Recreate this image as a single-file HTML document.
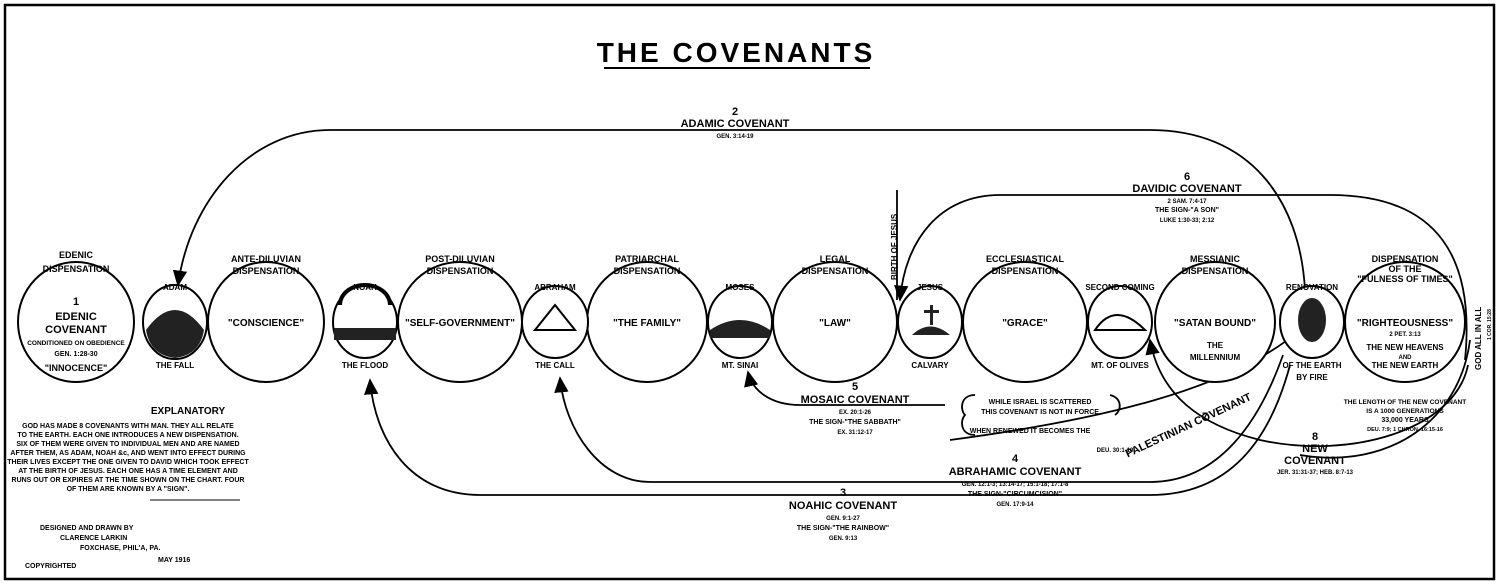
<!DOCTYPE html>
<html><head><meta charset="utf-8"><style>
html,body{margin:0;padding:0;background:#fff}
svg{display:block}
text{font-family:"Liberation Sans",sans-serif;font-weight:bold;fill:#000}
</style></head><body>
<svg width="1500" height="585" viewBox="0 0 1500 585" xmlns="http://www.w3.org/2000/svg">
<defs><marker id="a" markerWidth="10" markerHeight="10" refX="8" refY="5" orient="auto"><path d="M0,1 L9,5 L0,9 z" fill="#000"/></marker></defs>
<rect x="5" y="5" width="1489" height="574" fill="none" stroke="#000" stroke-width="2.5"/>
<text x="736" y="62" font-size="28" text-anchor="middle" letter-spacing="3">THE COVENANTS</text>
<line x1="604" y1="68" x2="870" y2="68" stroke="#000" stroke-width="2"/>

<g fill="none" stroke="#000" stroke-width="1.8">
<!-- Adamic -->
<path d="M1305,290 C1300,200 1250,130 1150,130 L330,130 C250,130 190,200 178,285" marker-end="url(#a)"/>
<!-- Davidic -->
<path d="M1465,360 C1475,260 1440,195 1330,195 L1000,195 C940,195 905,240 900,300" marker-end="url(#a)"/>
<line x1="897" y1="190" x2="897" y2="300"/>
<!-- Noahic -->
<path d="M1290,365 C1270,440 1230,495 1150,495 L480,495 C410,495 375,440 370,380" marker-end="url(#a)"/>
<!-- Abrahamic -->
<path d="M1283,355 C1260,420 1220,482 1150,482 L650,482 C600,482 565,430 560,378" marker-end="url(#a)"/>
<!-- Mosaic -->
<path d="M945,405 L800,405 C770,405 752,390 748,372" marker-end="url(#a)"/>
<!-- Palestinian -->
<path d="M950,440 C1100,420 1230,390 1300,330"/>
<!-- New -->
<path d="M1468,365 C1455,430 1350,460 1260,440 C1200,425 1160,395 1150,340" marker-end="url(#a)"/>
<path d="M1470,340 C1460,420 1390,470 1300,455"/>
<!-- bracket -->
<path d="M975,395 C960,395 960,410 965,415 C960,420 960,435 975,435"/>
<path d="M1110,395 C1122,398 1122,410 1115,415"/>
</g>

<g fill="#fff" stroke="#000" stroke-width="2">
<ellipse cx="76" cy="322" rx="58" ry="60"/>
<ellipse cx="266" cy="322" rx="58" ry="60"/>
<ellipse cx="460" cy="322" rx="62" ry="60"/>
<ellipse cx="647" cy="322" rx="60" ry="60"/>
<ellipse cx="835" cy="322" rx="62" ry="60"/>
<ellipse cx="1025" cy="322" rx="62" ry="60"/>
<ellipse cx="1215" cy="322" rx="60" ry="60"/>
<ellipse cx="1405" cy="322" rx="60" ry="60"/>
<ellipse cx="175" cy="322" rx="32" ry="37"/>
<ellipse cx="365" cy="322" rx="32" ry="36"/>
<ellipse cx="555" cy="322" rx="33" ry="36"/>
<ellipse cx="740" cy="322" rx="32" ry="36"/>
<ellipse cx="930" cy="322" rx="32" ry="36"/>
<ellipse cx="1120" cy="322" rx="32" ry="36"/>
<ellipse cx="1312" cy="322" rx="32" ry="36"/>
</g>
<!-- picture fills -->
<g fill="#222">
<path d="M146,330 Q175,290 204,330 Q200,355 175,358 Q150,355 146,330z"/>
<rect x="334" y="328" width="62" height="12"/>
<path d="M340,305 A25,20 0 0 1 390,305" fill="none" stroke="#000" stroke-width="4"/>
<path d="M535,330 L555,305 L575,330z" fill="none" stroke="#000" stroke-width="2"/>
<path d="M710,330 Q740,310 770,330 L770,338 L710,338z"/>
<rect x="930" y="305" width="3" height="20"/><rect x="924" y="310" width="15" height="3"/>
<path d="M912,335 Q930,318 950,335z"/>
<path d="M1095,330 Q1115,300 1145,330z" fill="none" stroke="#000" stroke-width="2"/>
<ellipse cx="1312" cy="320" rx="14" ry="22"/>
</g>

<g font-size="9" text-anchor="middle">
<text x="76" y="258">EDENIC</text><text x="76" y="272">DISPENSATION</text>
<text x="266" y="262">ANTE-DILUVIAN</text><text x="266" y="274">DISPENSATION</text>
<text x="460" y="262">POST-DILUVIAN</text><text x="460" y="274">DISPENSATION</text>
<text x="647" y="262">PATRIARCHAL</text><text x="647" y="274">DISPENSATION</text>
<text x="835" y="262">LEGAL</text><text x="835" y="274">DISPENSATION</text>
<text x="1025" y="262">ECCLESIASTICAL</text><text x="1025" y="274">DISPENSATION</text>
<text x="1215" y="262">MESSIANIC</text><text x="1215" y="274">DISPENSATION</text>
<text x="1405" y="262">DISPENSATION</text><text x="1405" y="272">OF THE</text><text x="1405" y="282">"FULNESS OF TIMES"</text>
<text x="175" y="290" font-size="8">ADAM</text><text x="175" y="368" font-size="8">THE FALL</text>
<text x="365" y="290" font-size="8">NOAH</text><text x="365" y="368" font-size="8">THE FLOOD</text>
<text x="555" y="290" font-size="8">ABRAHAM</text><text x="555" y="368" font-size="8">THE CALL</text>
<text x="740" y="290" font-size="8">MOSES</text><text x="740" y="368" font-size="8">MT. SINAI</text>
<text x="930" y="290" font-size="8">JESUS</text><text x="930" y="368" font-size="8">CALVARY</text>
<text x="1120" y="290" font-size="8">SECOND COMING</text><text x="1120" y="368" font-size="8">MT. OF OLIVES</text>
<text x="1312" y="290" font-size="8">RENOVATION</text><text x="1312" y="368" font-size="8">OF THE EARTH</text>
<text x="1312" y="380" font-size="8">BY FIRE</text>
</g>
<g text-anchor="middle">
<text x="76" y="305" font-size="11">1</text>
<text x="76" y="320" font-size="11">EDENIC</text>
<text x="76" y="333" font-size="11">COVENANT</text>
<text x="76" y="345" font-size="6.5">CONDITIONED ON OBEDIENCE</text>
<text x="76" y="356" font-size="7">GEN. 1:28-30</text>
<text x="76" y="371" font-size="9">"INNOCENCE"</text>
<text x="266" y="326" font-size="10">"CONSCIENCE"</text>
<text x="460" y="326" font-size="10">"SELF-GOVERNMENT"</text>
<text x="647" y="326" font-size="10">"THE FAMILY"</text>
<text x="835" y="326" font-size="10">"LAW"</text>
<text x="1025" y="326" font-size="10">"GRACE"</text>
<text x="1215" y="326" font-size="10">"SATAN BOUND"</text>
<text x="1215" y="348" font-size="8">THE</text>
<text x="1215" y="360" font-size="8">MILLENNIUM</text>
<text x="1405" y="326" font-size="10">"RIGHTEOUSNESS"</text>
<text x="1405" y="336" font-size="6">2 PET. 3:13</text>
<text x="1405" y="350" font-size="8">THE NEW HEAVENS</text>
<text x="1405" y="359" font-size="6">AND</text>
<text x="1405" y="368" font-size="8">THE NEW EARTH</text>

<text x="735" y="115" font-size="11">2</text>
<text x="735" y="127" font-size="11">ADAMIC COVENANT</text>
<text x="735" y="138" font-size="6">GEN. 3:14-19</text>
<text x="1187" y="180" font-size="11">6</text>
<text x="1187" y="192" font-size="11">DAVIDIC COVENANT</text>
<text x="1187" y="203" font-size="6">2 SAM. 7:4-17</text>
<text x="1187" y="212" font-size="7">THE SIGN-"A SON"</text>
<text x="1187" y="222" font-size="6">LUKE 1:30-33; 2:12</text>
<text x="855" y="390" font-size="11">5</text>
<text x="855" y="403" font-size="11">MOSAIC COVENANT</text>
<text x="855" y="414" font-size="6">EX. 20:1-26</text>
<text x="855" y="424" font-size="7">THE SIGN-"THE SABBATH"</text>
<text x="855" y="434" font-size="6">EX. 31:12-17</text>
<text x="1040" y="404" font-size="7">WHILE ISRAEL IS SCATTERED</text>
<text x="1040" y="414" font-size="7">THIS COVENANT IS NOT IN FORCE</text>
<text x="1030" y="433" font-size="7">WHEN RENEWED IT BECOMES THE</text>
<text x="1205" y="420" font-size="11">7</text>
<text x="1188" y="428" font-size="11" transform="rotate(-25 1190 424)">PALESTINIAN COVENANT</text>
<text x="1115" y="452" font-size="6">DEU. 30:1-10</text>
<text x="1015" y="462" font-size="11">4</text>
<text x="1015" y="475" font-size="11">ABRAHAMIC COVENANT</text>
<text x="1015" y="486" font-size="6">GEN. 12:1-3; 13:14-17; 15:1-18; 17:1-8</text>
<text x="1015" y="496" font-size="7">THE SIGN-"CIRCUMCISION"</text>
<text x="1015" y="506" font-size="6">GEN. 17:9-14</text>
<text x="843" y="496" font-size="11">3</text>
<text x="843" y="509" font-size="11">NOAHIC COVENANT</text>
<text x="843" y="520" font-size="6">GEN. 9:1-27</text>
<text x="843" y="530" font-size="7">THE SIGN-"THE RAINBOW"</text>
<text x="843" y="540" font-size="6">GEN. 9:13</text>
<text x="1315" y="440" font-size="11">8</text>
<text x="1315" y="452" font-size="11">NEW</text>
<text x="1315" y="464" font-size="11">COVENANT</text>
<text x="1315" y="474" font-size="6">JER. 31:31-37; HEB. 8:7-13</text>
<text x="1405" y="404" font-size="6.5">THE LENGTH OF THE NEW COVENANT</text>
<text x="1405" y="413" font-size="6.5">IS A 1000 GENERATIONS</text>
<text x="1405" y="422" font-size="7">33,000 YEARS</text>
<text x="1405" y="431" font-size="5.5">DEU. 7:9; 1 CHRON. 16:15-16</text>
<text x="188" y="414" font-size="10">EXPLANATORY</text>
</g>
<text x="897" y="280" font-size="8" transform="rotate(-90 897 280)">BIRTH OF JESUS</text>
<text x="1481" y="370" font-size="8" transform="rotate(-90 1481 370)">GOD ALL IN ALL</text>
<text x="1491" y="340" font-size="5" transform="rotate(-90 1491 340)">1 COR. 15:28</text>
<g font-size="7" text-anchor="middle">
<text x="128" y="428">GOD HAS MADE 8 COVENANTS WITH MAN. THEY ALL RELATE</text>
<text x="128" y="437">TO THE EARTH. EACH ONE INTRODUCES A NEW DISPENSATION.</text>
<text x="128" y="446">SIX OF THEM WERE GIVEN TO INDIVIDUAL MEN AND ARE NAMED</text>
<text x="128" y="455">AFTER THEM, AS ADAM, NOAH &amp;c, AND WENT INTO EFFECT DURING</text>
<text x="128" y="464">THEIR LIVES EXCEPT THE ONE GIVEN TO DAVID WHICH TOOK EFFECT</text>
<text x="128" y="473">AT THE BIRTH OF JESUS. EACH ONE HAS A TIME ELEMENT AND</text>
<text x="128" y="482">RUNS OUT OR EXPIRES AT THE TIME SHOWN ON THE CHART. FOUR</text>
<text x="128" y="491">OF THEM ARE KNOWN BY A "SIGN".</text>
</g>
<line x1="150" y1="500" x2="240" y2="500" stroke="#000" stroke-width="1"/>
<g font-size="7">
<text x="40" y="530">DESIGNED AND DRAWN BY</text>
<text x="60" y="540">CLARENCE LARKIN</text>
<text x="80" y="550">FOXCHASE, PHIL'A, PA.</text>
<text x="158" y="562">MAY 1916</text>
<text x="25" y="568">COPYRIGHTED</text>
</g>
</svg>
</body></html>
